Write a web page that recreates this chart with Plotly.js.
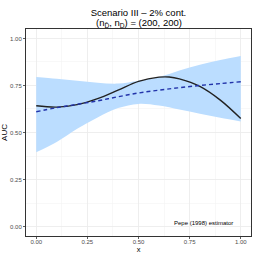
<!DOCTYPE html>
<html><head><meta charset="utf-8">
<script src="https://cdn.plot.ly/plotly-3.0.1.min.js"></script>
<style>body{margin:0;padding:0;background:#fff}#c{width:254px;height:254px}</style>
</head><body><div id="c"></div>
<script>
const xs = [0, 0.1, 0.2, 0.3, 0.4, 0.5, 0.6, 0.7, 0.8, 0.9, 1.0];
const bandLower = [0.395, 0.45, 0.52, 0.58, 0.63, 0.652, 0.643, 0.622, 0.60, 0.578, 0.558];
const bandUpper = [0.795, 0.785, 0.775, 0.765, 0.76, 0.775, 0.795, 0.83, 0.86, 0.885, 0.906];
const xsTrue = [0, 0.1, 0.2, 0.3, 0.4, 0.5, 0.6, 0.65, 0.7, 0.8, 0.9, 1.0];
const trueAUC = [0.642, 0.635, 0.648, 0.68, 0.725, 0.772, 0.794, 0.795, 0.785, 0.745, 0.672, 0.574];
const estAUC = [0.61, 0.632, 0.65, 0.668, 0.69, 0.71, 0.725, 0.738, 0.75, 0.76, 0.77];
const xTicks = [0, 0.25, 0.5, 0.75, 1];
const xTickText = ['0.00', '0.25', '0.50', '0.75', '1.00'];
const yTicks = [0, 0.25, 0.5, 0.75, 1];
const yTickText = ['0.00', '0.25', '0.50', '0.75', '1.00'];

const bandColor = 'rgba(187,221,255,1)';
const data = [
  {x: xs, y: bandLower, type: 'scatter', mode: 'lines', line: {width: 0, shape: 'spline', color: bandColor}, hoverinfo: 'skip', showlegend: false},
  {x: xs, y: bandUpper, type: 'scatter', mode: 'lines', fill: 'tonexty', fillcolor: bandColor, line: {width: 0, shape: 'spline', color: bandColor}, hoverinfo: 'skip', showlegend: false},
  {x: xsTrue, y: trueAUC, type: 'scatter', mode: 'lines', line: {color: '#222222', width: 1.4, shape: 'spline'}, showlegend: false},
  {x: xs, y: estAUC, type: 'scatter', mode: 'lines', line: {color: '#2233aa', width: 1.4, dash: '4px,3px', shape: 'spline'}, showlegend: false}
];
const axisCommon = {
  showline: true, mirror: true, linecolor: '#333333', linewidth: 1,
  ticks: 'outside', ticklen: 2, tickwidth: 0.8, tickcolor: '#333333',
  showgrid: true, gridcolor: '#ebebeb', gridwidth: 0.8,
  zeroline: false,
  tickfont: {family: 'Liberation Sans, Arial, sans-serif', size: 6, color: '#4d4d4d'}
};
const layout = {
  width: 254, height: 254,
  margin: {l: 26, r: 3, t: 29, b: 18},
  paper_bgcolor: '#ffffff', plot_bgcolor: '#ffffff',
  font: {family: 'Liberation Sans, Arial, sans-serif', color: '#000'},
  title: {text: 'Scenario III \u2013 2% cont.', font: {size: 9.5, color: '#000'}, x: 0.545, xanchor: 'center', yref: 'container', y: 1 - 12.5/254, yanchor: 'middle'},
  xaxis: Object.assign({}, axisCommon, {
    range: [-0.05, 1.05], tickvals: xTicks, ticktext: xTickText,
    ticklabelstandoff: -2,
    minor: {dtick: 0.125, tick0: 0.125, showgrid: true, gridcolor: '#f3f3f3', gridwidth: 0.6, ticks: ''},
    title: {text: 'x', font: {size: 7.5, color: '#000'}, standoff: 0}
  }),
  yaxis: Object.assign({}, axisCommon, {
    range: [-0.05, 1.05], tickvals: yTicks, ticktext: yTickText,
    minor: {dtick: 0.125, tick0: 0.125, showgrid: true, gridcolor: '#f3f3f3', gridwidth: 0.6, ticks: ''},
    title: {text: 'AUC', font: {size: 8, color: '#000'}, standoff: 4}
  }),
  annotations: [
    {text: '(n<sub>D\u0304</sub>, n<sub>D</sub>) = (200, 200)', xref: 'paper', yref: 'paper', x: 0.5, y: 1 + (29 - 23) / 207, xanchor: 'center', yanchor: 'middle', showarrow: false, font: {size: 9.5, color: '#000'}},
    {text: 'Pepe (1998) estimator', xref: 'x', yref: 'y', x: 0.818, y: 0.021, xanchor: 'center', yanchor: 'middle', showarrow: false, font: {size: 6, color: '#000'}}
  ]
};
Plotly.newPlot('c', data, layout, {displayModeBar: false, staticPlot: true});
</script></body></html>
